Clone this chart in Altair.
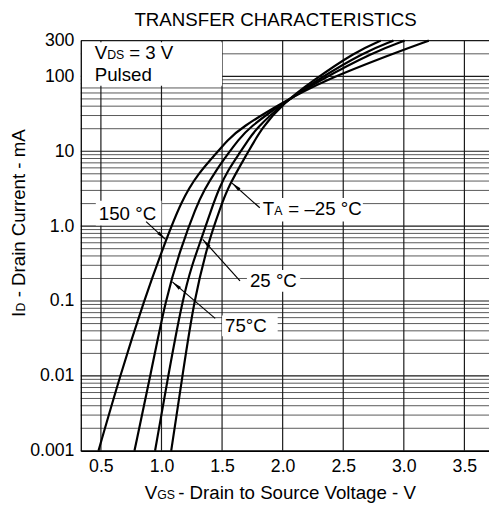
import altair as alt
import pandas as pd

FONT = "Liberation Sans"

# ---------------- data ----------------
# VGS (V) and ID (mA) along each temperature curve
vgs_150 = [0.480, 0.661, 0.862, 1.008, 1.166, 1.303, 1.459, 1.541, 1.656, 1.992, 2.323, 2.953, 3.206]
id_150 = [0.001, 0.0105, 0.108, 0.491, 2.24, 5.05, 9.64, 13.9, 20.6, 44.1, 85.9, 213.8, 300]
vgs_75 = [0.777, 0.911, 1.035, 1.156, 1.287, 1.352, 1.451, 1.557, 1.631, 1.721, 2.000, 2.290, 2.758, 3.006]
id_75 = [0.001, 0.0105, 0.108, 0.491, 1.83, 3.04, 5.58, 9.64, 13.9, 20.6, 44.1, 85.9, 213.8, 300]
vgs_25 = [0.947, 1.057, 1.175, 1.254, 1.328, 1.410, 1.481, 1.549, 1.648, 1.713, 1.787, 2.008, 2.266, 2.680, 2.914]
id_25 = [0.001, 0.0105, 0.108, 0.311, 0.665, 1.66, 3.36, 5.58, 9.64, 13.9, 20.6, 44.1, 85.9, 213.8, 300]
vgs_m25 = [1.080, 1.175, 1.270, 1.393, 1.481, 1.549, 1.713, 1.828, 2.008, 2.242, 2.602, 2.810]
id_m25 = [0.001, 0.0105, 0.108, 0.665, 1.66, 3.36, 9.64, 20.6, 44.1, 85.9, 213.8, 300]

x_ticks = [0.5, 1.0, 1.5, 2.0, 2.5, 3.0, 3.5]
y_ticks = [0.001, 0.01, 0.1, 1, 10, 100, 300]
grid_major = [0.001, 0.01, 0.1, 1, 10, 100, 300]
grid_minor = [m * 10.0 ** e for e in range(-3, 2) for m in range(2, 10)] + [200]

# white panels behind the labels: V from..to, ID from..to
box_v1 = [0.334, 0.458, 1.811, 1.705, 1.500]
box_v2 = [1.500, 1.000, 2.662, 2.145, 1.959]
box_i1 = [75, 1.02, 1.15, 0.133, 0.0339]
box_i2 = [285, 2.18, 2.38, 0.259, 0.0641]

# leader lines (tail -> tip) for 150, 75, 25, -25 degC labels
lead_v1 = [0.873, 1.443, 1.648, 1.811]
lead_i1 = [1.15, 0.0586, 0.186, 1.76]
lead_v2 = [1.033, 1.090, 1.340, 1.582]
lead_i2 = [0.665, 0.180, 0.665, 3.76]
lead_ang = [133.5, 310.7, 318.2, 311.8]

# ---------------- tables ----------------
curves = pd.concat([
    pd.DataFrame({"V": vgs_150, "I": id_150, "T": "150"}),
    pd.DataFrame({"V": vgs_75, "I": id_75, "T": "75"}),
    pd.DataFrame({"V": vgs_25, "I": id_25, "T": "25"}),
    pd.DataFrame({"V": vgs_m25, "I": id_m25, "T": "-25"}),
])
boxes = pd.DataFrame({"v1": box_v1, "v2": box_v2, "i1": box_i1, "i2": box_i2})
leads = pd.DataFrame({"v1": lead_v1, "i1": lead_i1, "v2": lead_v2, "i2": lead_i2, "ang": lead_ang})

xs = alt.Scale(domain=[0.334, 3.703], nice=False, zero=False)
ys = alt.Scale(type="log", domain=[0.001, 300], nice=False)

AX = alt.Axis(values=x_ticks, format=".1f", grid=False, ticks=False,
              labelFont=FONT, labelFontSize=18, labelColor="black",
              labelPadding=7, labelFlush=False, labelOverlap=False,
              domainColor="black", domainWidth=1.3, title=None, zindex=1)
AY = alt.Axis(values=y_ticks, grid=False, ticks=False,
              labelExpr="datum.value == 1 ? '1.0' : (datum.value >= 10 ? format(datum.value, 'd') : format(datum.value, '~g'))",
              labelFont=FONT, labelFontSize=18, labelColor="black",
              labelPadding=7, labelFlush=False, labelOverlap=False,
              domainColor="black", domainWidth=1.3, title=None, zindex=1)


def X(f):
    return alt.X(f, scale=xs, axis=AX)


def Y(f):
    return alt.Y(f, scale=ys, axis=AY)


hmin = alt.Chart(pd.DataFrame({"I": grid_minor})).mark_rule(color="#444444", strokeWidth=0.9).encode(
    y=Y("I:Q"))
hmaj = alt.Chart(pd.DataFrame({"I": grid_major})).mark_rule(color="#1a1a1a", strokeWidth=1.2).encode(
    y=Y("I:Q"))
vgrid = alt.Chart(pd.DataFrame({"V": x_ticks})).mark_rule(color="#1a1a1a", strokeWidth=1.2).encode(
    x=X("V:Q"))
rects = alt.Chart(boxes).mark_rect(color="white").encode(
    x=X("v1:Q"), x2="v2:Q", y=Y("i1:Q"), y2="i2:Q")

lines = alt.Chart(curves).mark_line(interpolate="basis", color="black", strokeWidth=2.2).encode(
    x=X("V:Q"), y=Y("I:Q"), detail="T:N")

leaders = alt.Chart(leads).mark_rule(color="black", strokeWidth=1.2).encode(
    x=X("v1:Q"), y=Y("i1:Q"), x2="v2:Q", y2="i2:Q")
heads = alt.Chart(leads).mark_point(shape="M0,0L0.35,2L-0.35,2Z", filled=True, color="black",
                                    size=100, opacity=1).encode(
    x=X("v2:Q"), y=Y("i2:Q"), angle=alt.Angle("ang:Q", scale=None))


def label(text, v, i, size=19, dx=0):
    return alt.Chart(pd.DataFrame({"V": [v], "I": [i], "t": [text]})).mark_text(
        font=FONT, fontSize=size, align="left", baseline="alphabetic", dx=dx, color="black").encode(
        x=X("V:Q"), y=Y("I:Q"), text="t:N")


def ptext(text, x, y, size=19, angle=0, align="left"):
    return alt.Chart(pd.DataFrame({"t": [text]})).mark_text(
        font=FONT, fontSize=size, align=align, baseline="alphabetic", angle=angle, color="black").encode(
        x=alt.value(x), y=alt.value(y), text="t:N")


texts = [
    label("V", 0.449, 172.6), label("DS", 0.449, 172.6, 12.5, 12.7), label("= 3 V", 0.449, 172.6, 19, 35),
    label("Pulsed", 0.449, 87.7),
    label("150 °C", 0.483, 1.22),
    label("T", 1.836, 1.42), label("A", 1.836, 1.42, 12.5, 11.6), label("= –25 °C", 1.836, 1.42, 19, 26),
    label("25 °C", 1.730, 0.155),
    label("75°C", 1.525, 0.0383),
    ptext("TRANSFER CHARACTERISTICS", 198, -15, 19, 0, "center"),
    ptext("V", 65, 466), ptext("GS", 77.7, 466, 12.5), ptext("- Drain to Source Voltage - V", 99, 466),
    ptext("I", -57, 281, 19, 270), ptext("D", -57, 275.5, 12.5, 270), ptext("- Drain Current - mA", -57, 261, 19, 270),
]

chart = alt.layer(hmin, hmaj, vgrid, rects, lines, leaders, heads, *texts).properties(
    width=415, height=417,
    autosize=alt.AutoSizeParams(type="none"),
    padding={"left": 74, "top": 29, "right": 0, "bottom": 56},
    background="white",
).configure_view(stroke=None)

chart.save("out.html", embed_options={"renderer": "svg", "actions": False})
